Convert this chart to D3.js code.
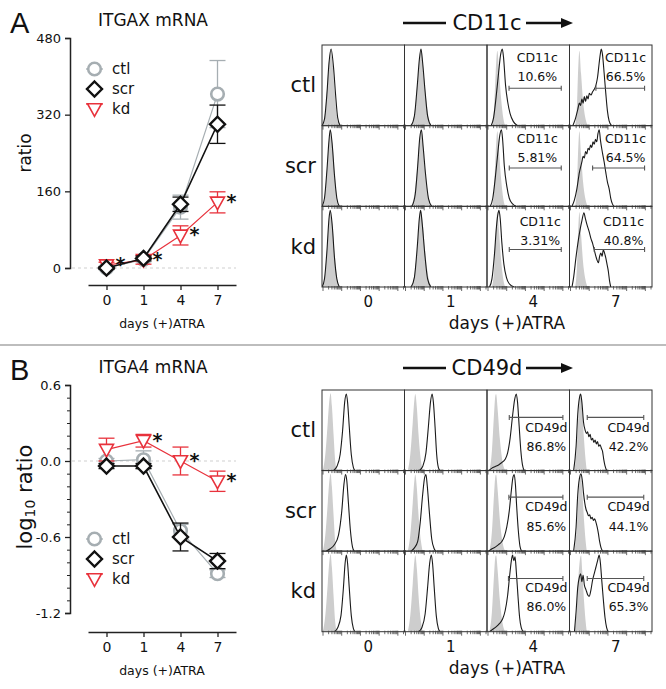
<!DOCTYPE html>
<html><head><meta charset="utf-8">
<script src="https://cdn.jsdelivr.net/npm/d3@7"></script>
<style>body{margin:0;background:#fff} svg{display:block} text{font-family:"DejaVu Sans",Verdana,sans-serif;fill:#111}</style>
</head><body><svg id="c" width="666" height="689"></svg>
<script>
// ---------- DATA ----------
const days = ["0", "1", "4", "7"];
const groups = ["ctl", "scr", "kd"];

// Panel A: ITGAX mRNA ratio
const itgaxCtl = [0, 18, 127, 363];
const itgaxCtlErr = [3, 5, 25, 70];
const itgaxScr = [0, 20, 133, 300];
const itgaxScrErr = [3, 5, 15, 40];
const itgaxKd = [6, 17, 68, 137];
const itgaxKdErr = [6, 9, 20, 22];
const itgaxStars = [true, true, true, true];
const itgaxTicks = [0, 160, 320, 480];

// Panel B: ITGA4 mRNA log10 ratio
const itga4Ctl = [0.0, 0.01, -0.55, -0.89];
const itga4CtlErr = [0.02, 0.07, 0.05, 0.03];
const itga4Scr = [-0.04, -0.04, -0.60, -0.79];
const itga4ScrErr = [0.02, 0.02, 0.11, 0.06];
const itga4Kd = [0.09, 0.16, 0.0, -0.16];
const itga4KdErr = [0.09, 0.05, 0.11, 0.08];
const itga4Stars = [false, true, true, true];
const itga4Ticks = [-1.2, -0.6, 0.0, 0.6];

// Histograms: [fraction of axis, fraction of peak height] per day column
const cd11cIso = [
  [[0.0,0],[0.03,0.1],[0.06,0.45],[0.085,0.8],[0.105,0.95],[0.13,0.75],[0.155,0.4],[0.18,0.12],[0.21,0]],
  [[0.08,0],[0.12,0.15],[0.16,0.55],[0.185,0.85],[0.2,0.95],[0.22,0.8],[0.25,0.45],[0.29,0.12],[0.33,0]],
  [[0.06,0],[0.085,0.2],[0.105,0.65],[0.125,0.93],[0.145,0.7],[0.17,0.35],[0.2,0.08],[0.22,0]],
  [[0.07,0],[0.09,0.25],[0.105,0.7],[0.12,0.93],[0.14,0.65],[0.165,0.3],[0.2,0.06],[0.22,0]]
];
const cd11cCtl = [
  [[0.0,0],[0.03,0.08],[0.06,0.4],[0.085,0.78],[0.11,0.95],[0.14,0.72],[0.165,0.38],[0.19,0.1],[0.22,0]],
  [[0.08,0],[0.12,0.12],[0.155,0.5],[0.18,0.82],[0.2,0.95],[0.22,0.78],[0.25,0.42],[0.28,0.12],[0.32,0]],
  [[0.05,0],[0.08,0.1],[0.11,0.35],[0.14,0.65],[0.165,0.88],[0.185,0.95],[0.2,0.85],[0.225,0.5],[0.25,0.3],[0.28,0.15],[0.32,0.05],[0.37,0]],
  [[0.04,0],[0.07,0.08],[0.1,0.2],[0.12,0.28],[0.135,0.25],[0.15,0.33],[0.165,0.28],[0.18,0.36],[0.195,0.3],[0.21,0.37],[0.225,0.33],[0.24,0.4],[0.26,0.38],[0.28,0.42],[0.3,0.45],[0.32,0.5],[0.34,0.6],[0.36,0.78],[0.375,0.9],[0.385,0.95],[0.4,0.88],[0.42,0.65],[0.44,0.4],[0.46,0.18],[0.48,0.06],[0.51,0]]
];
const cd11cScr = [
  [[0.0,0],[0.03,0.1],[0.06,0.45],[0.085,0.82],[0.1,0.95],[0.125,0.75],[0.15,0.4],[0.18,0.1],[0.21,0]],
  [[0.09,0],[0.13,0.15],[0.16,0.5],[0.185,0.85],[0.205,0.95],[0.225,0.75],[0.255,0.4],[0.29,0.1],[0.33,0]],
  [[0.04,0],[0.07,0.1],[0.1,0.35],[0.13,0.65],[0.155,0.88],[0.175,0.95],[0.19,0.82],[0.21,0.5],[0.24,0.25],[0.27,0.1],[0.31,0.03],[0.35,0]],
  [[0.03,0],[0.06,0.08],[0.09,0.22],[0.12,0.42],[0.15,0.55],[0.165,0.62],[0.18,0.6],[0.195,0.68],[0.21,0.65],[0.225,0.72],[0.24,0.7],[0.255,0.76],[0.27,0.73],[0.285,0.8],[0.3,0.77],[0.315,0.83],[0.33,0.8],[0.345,0.9],[0.36,0.95],[0.375,0.82],[0.4,0.66],[0.42,0.55],[0.44,0.42],[0.46,0.3],[0.48,0.22],[0.5,0.1],[0.52,0.03],[0.54,0]]
];
const cd11cKd = [
  [[0.0,0],[0.03,0.1],[0.06,0.45],[0.085,0.85],[0.1,0.95],[0.125,0.75],[0.15,0.38],[0.18,0.1],[0.21,0]],
  [[0.08,0],[0.12,0.12],[0.155,0.5],[0.18,0.85],[0.195,0.95],[0.215,0.78],[0.245,0.42],[0.28,0.1],[0.32,0]],
  [[0.03,0],[0.06,0.1],[0.09,0.4],[0.115,0.75],[0.135,0.92],[0.145,0.95],[0.16,0.85],[0.18,0.55],[0.205,0.28],[0.235,0.12],[0.27,0.04],[0.33,0]],
  [[0.03,0],[0.05,0.12],[0.08,0.38],[0.11,0.6],[0.13,0.72],[0.15,0.82],[0.175,0.92],[0.19,0.86],[0.21,0.78],[0.24,0.68],[0.26,0.6],[0.28,0.54],[0.3,0.46],[0.32,0.38],[0.335,0.33],[0.35,0.3],[0.365,0.38],[0.38,0.42],[0.395,0.38],[0.41,0.46],[0.425,0.42],[0.44,0.36],[0.455,0.28],[0.47,0.2],[0.485,0.08],[0.5,0]]
];
const cd11cPctCtl = [null, null, "10.6%", "66.5%"];
const cd11cPctScr = [null, null, "5.81%", "64.5%"];
const cd11cPctKd = [null, null, "3.31%", "40.8%"];
const cd11cGateStartCtl = [null, null, 0.267, 0.32];
const cd11cGateStartScr = [null, null, 0.27, 0.28];
const cd11cGateStartKd = [null, null, 0.27, 0.30];

const cd49dIso = [
  [[0.01,0],[0.04,0.2],[0.07,0.6],[0.09,0.88],[0.105,0.96],[0.12,0.8],[0.14,0.45],[0.16,0.12],[0.18,0]],
  [[0.04,0],[0.07,0.2],[0.1,0.6],[0.12,0.88],[0.13,0.95],[0.15,0.78],[0.17,0.45],[0.2,0.12],[0.22,0]],
  [[0.03,0],[0.06,0.25],[0.085,0.7],[0.1,0.92],[0.11,0.95],[0.13,0.75],[0.155,0.4],[0.19,0.1],[0.22,0]],
  [[0.06,0],[0.085,0.25],[0.11,0.7],[0.13,0.92],[0.14,0.95],[0.155,0.75],[0.175,0.4],[0.2,0.08],[0.21,0]]
];
const cd49dCtl = [
  [[0.14,0],[0.18,0.05],[0.22,0.2],[0.25,0.5],[0.275,0.85],[0.295,0.95],[0.31,0.85],[0.33,0.55],[0.355,0.2],[0.38,0.04],[0.4,0]],
  [[0.18,0],[0.22,0.05],[0.26,0.22],[0.29,0.55],[0.315,0.85],[0.335,0.95],[0.35,0.85],[0.37,0.55],[0.39,0.2],[0.41,0.04],[0.43,0]],
  [[0.02,0],[0.06,0.03],[0.1,0.05],[0.14,0.07],[0.18,0.1],[0.22,0.14],[0.25,0.22],[0.28,0.4],[0.31,0.68],[0.335,0.88],[0.355,0.95],[0.37,0.85],[0.39,0.55],[0.41,0.25],[0.43,0.07],[0.45,0]],
  [[0.05,0],[0.08,0.3],[0.1,0.7],[0.12,0.9],[0.135,0.95],[0.15,0.85],[0.17,0.6],[0.19,0.5],[0.205,0.46],[0.22,0.48],[0.235,0.42],[0.25,0.45],[0.265,0.38],[0.28,0.4],[0.295,0.35],[0.31,0.38],[0.325,0.33],[0.34,0.36],[0.355,0.3],[0.37,0.32],[0.385,0.28],[0.4,0.24],[0.415,0.14],[0.43,0.06],[0.45,0]]
];
const cd49dScr = [
  [[0.05,0],[0.1,0.03],[0.15,0.08],[0.2,0.2],[0.24,0.5],[0.265,0.82],[0.285,0.95],[0.3,0.88],[0.32,0.6],[0.345,0.25],[0.37,0.05],[0.39,0]],
  [[0.08,0],[0.12,0.04],[0.16,0.12],[0.19,0.35],[0.22,0.7],[0.245,0.92],[0.26,0.95],[0.275,0.82],[0.3,0.5],[0.33,0.15],[0.36,0.03],[0.38,0]],
  [[0.02,0],[0.06,0.03],[0.1,0.05],[0.14,0.08],[0.18,0.12],[0.21,0.18],[0.24,0.3],[0.27,0.5],[0.295,0.75],[0.315,0.92],[0.33,0.95],[0.345,0.82],[0.36,0.55],[0.38,0.25],[0.4,0.06],[0.42,0]],
  [[0.05,0],[0.08,0.3],[0.1,0.7],[0.12,0.9],[0.14,0.96],[0.155,0.88],[0.17,0.72],[0.185,0.6],[0.2,0.52],[0.215,0.48],[0.23,0.44],[0.245,0.45],[0.26,0.4],[0.275,0.42],[0.29,0.38],[0.305,0.4],[0.32,0.36],[0.335,0.3],[0.35,0.22],[0.365,0.12],[0.38,0.05],[0.4,0]]
];
const cd49dKd = [
  [[0.15,0],[0.19,0.05],[0.23,0.2],[0.26,0.55],[0.28,0.85],[0.295,0.95],[0.31,0.85],[0.33,0.55],[0.355,0.2],[0.38,0.04],[0.4,0]],
  [[0.17,0],[0.21,0.05],[0.25,0.22],[0.28,0.55],[0.305,0.85],[0.325,0.95],[0.34,0.85],[0.36,0.55],[0.385,0.2],[0.41,0.04],[0.43,0]],
  [[0.03,0],[0.07,0.03],[0.11,0.06],[0.15,0.1],[0.19,0.16],[0.22,0.26],[0.25,0.45],[0.275,0.7],[0.295,0.88],[0.31,0.95],[0.325,0.88],[0.34,0.93],[0.355,0.75],[0.375,0.45],[0.395,0.18],[0.415,0.05],[0.44,0]],
  [[0.06,0],[0.08,0.25],[0.1,0.55],[0.12,0.68],[0.135,0.72],[0.15,0.62],[0.165,0.7],[0.18,0.58],[0.2,0.52],[0.22,0.46],[0.24,0.44],[0.26,0.52],[0.28,0.64],[0.3,0.72],[0.32,0.8],[0.34,0.88],[0.36,0.95],[0.375,0.85],[0.39,0.65],[0.41,0.4],[0.43,0.18],[0.45,0.05],[0.47,0]]
];
const cd49dPctCtl = [null, null, "86.8%", "42.2%"];
const cd49dPctScr = [null, null, "85.6%", "44.1%"];
const cd49dPctKd = [null, null, "86.0%", "65.3%"];
const cd49dGateStartCtl = [null, null, 0.27, 0.215];
const cd49dGateStartScr = [null, null, 0.265, 0.215];
const cd49dGateStartKd = [null, null, 0.26, 0.215];

// ---------- DRAW ----------
const svg = d3.select("#c");
const C = {ctl: "#a6aeb2", scr: "#111111", kd: "#e8323c"};

// separator
svg.append("line").attr("x1", 0).attr("x2", 666).attr("y1", 345).attr("y2", 345)
  .attr("stroke", "#bdbdbd").attr("stroke-width", 2);

function markerPath(type, s) {
  if (type === "ctl") return null;
  if (type === "scr") return `M0,${-s}L${s},0L0,${s}L${-s},0Z`;
  return `M${-s},${-s*0.75}L${s},${-s*0.75}L0,${s*1.05}Z`;
}
function drawMarker(g, type, x, y) {
  if (type === "ctl") {
    g.append("circle").attr("cx", x).attr("cy", y).attr("r", 6.3)
      .attr("fill", "#fff").attr("stroke", C.ctl).attr("stroke-width", 2.6);
  } else if (type === "scr") {
    g.append("path").attr("transform", `translate(${x},${y})`).attr("d", markerPath("scr", 7.5))
      .attr("fill", "#fff").attr("stroke", C.scr).attr("stroke-width", 2.4);
  } else {
    g.append("path").attr("transform", `translate(${x},${y})`).attr("d", markerPath("kd", 7))
      .attr("fill", "#fff").attr("stroke", C.kd).attr("stroke-width", 1.6);
  }
}

function lineChart(cfg) {
  const g = svg.append("g");
  const x = d3.scalePoint().domain(days).range([88, 236]).padding(0.5);
  const y = d3.scaleLinear().domain(cfg.domain).range(cfg.yRange);
  g.append("text").attr("x", 10).attr("y", cfg.letterY).text(cfg.letter)
    .style("font-family", "'Liberation Sans',Arial,sans-serif").style("font-size", "29px");
  g.append("text").attr("x", 153).attr("y", cfg.titleY).attr("text-anchor", "middle")
    .attr("dominant-baseline", "central").style("font-size", "17px").text(cfg.title);
  const ya = g.append("g").attr("transform", "translate(70,0)")
    .call(d3.axisLeft(y).tickValues(cfg.ticks).tickSize(5).tickPadding(4).tickFormat(cfg.fmt));
  ya.select(".domain").attr("stroke", "#222").attr("stroke-width", 1.5);
  ya.selectAll(".tick line").attr("stroke", "#222").attr("stroke-width", 1.3);
  ya.selectAll(".tick text").style("font-size", "13px").style("font-family", "'DejaVu Sans',sans-serif").attr("fill", "#111");
  if (cfg.minor) {
    const minor = d3.range(Math.round(cfg.domain[0] * 10), Math.round(cfg.domain[1] * 10) + 1).map(d => d / 10);
    g.append("g").attr("transform", "translate(70,0)")
      .call(d3.axisLeft(y).tickValues(minor).tickSize(3).tickFormat(""))
      .call(s => s.select(".domain").remove())
      .selectAll(".tick line").attr("stroke", "#222");
  }
  g.append("line").attr("x1", 72).attr("x2", 236).attr("y1", y(0)).attr("y2", y(0))
    .attr("stroke", "#cfcfcf").attr("stroke-dasharray", "3,3").attr("stroke-width", 1);
  const xa = g.append("g").attr("transform", `translate(0,${cfg.xAxisY})`)
    .call(d3.axisBottom(x).tickSize(5).tickSizeOuter(0).tickPadding(5));
  xa.select(".domain").attr("stroke", "#222").attr("stroke-width", 1.5);
  xa.selectAll(".tick line").attr("stroke", "#222").attr("stroke-width", 1.3);
  xa.selectAll(".tick text").style("font-size", "14px").style("font-family", "'DejaVu Sans',sans-serif").attr("fill", "#111");
  g.append("text").attr("x", 162).attr("y", cfg.xAxisY + 38).attr("text-anchor", "middle")
    .attr("dominant-baseline", "central").style("font-size", "12.5px").text("days (+)ATRA");
  const yl = g.append("text").attr("transform", `translate(${cfg.ylabX},${cfg.ylabY}) rotate(-90)`)
    .attr("text-anchor", "middle").attr("dominant-baseline", "central").style("font-size", cfg.ylabSize + "px");
  cfg.ylab(yl);

  const series = [
    {k: "ctl", v: cfg.ctl, e: cfg.ctlErr, w: 1.2},
    {k: "kd", v: cfg.kd, e: cfg.kdErr, w: 1.2},
    {k: "scr", v: cfg.scr, e: cfg.scrErr, w: 1.6}
  ];
  series.forEach(s => {
    const sg = g.append("g");
    sg.append("path").datum(s.v)
      .attr("d", d3.line().x((d, i) => x(days[i])).y(d => y(d)))
      .attr("fill", "none").attr("stroke", C[s.k]).attr("stroke-width", s.w);
    s.v.forEach((v, i) => {
      const cx = x(days[i]);
      const eg = sg.append("g").attr("stroke", C[s.k]).attr("stroke-width", 1.3);
      eg.append("line").attr("x1", cx).attr("x2", cx).attr("y1", y(v - s.e[i])).attr("y2", y(v + s.e[i]));
      [v - s.e[i], v + s.e[i]].forEach(ev => eg.append("line").attr("x1", cx - 8).attr("x2", cx + 8).attr("y1", y(ev)).attr("y2", y(ev)));
    });
    s.v.forEach((v, i) => drawMarker(sg, s.k, x(days[i]), y(v)));
  });
  cfg.kd.forEach((v, i) => {
    if (cfg.stars[i]) g.append("text").attr("x", x(days[i]) + 14).attr("y", y(v) + 6)
      .attr("text-anchor", "middle").style("font-size", "19px").style("font-weight", "bold").text("*");
  });
  groups.forEach((k, i) => {
    const ly = cfg.legY + i * 20;
    g.append("line").attr("x1", 86).attr("x2", 103).attr("y1", k === "kd" ? ly - 5 : ly).attr("y2", k === "kd" ? ly - 5 : ly)
      .attr("stroke", C[k]).attr("stroke-width", 1.3);
    drawMarker(g, k, 94.5, ly);
    g.append("text").attr("x", 112).attr("y", ly).attr("dominant-baseline", "central")
      .style("font-size", "15px").text(k);
  });
}

lineChart({
  letter: "A", letterY: 33, title: "ITGAX mRNA", titleY: 20,
  domain: [0, 480], yRange: [268, 38], ticks: itgaxTicks, fmt: d3.format("d"), minor: false,
  xAxisY: 285, ylabX: 25, ylabY: 153, ylabSize: 17,
  ylab: t => t.text("ratio"),
  ctl: itgaxCtl, ctlErr: itgaxCtlErr, scr: itgaxScr, scrErr: itgaxScrErr, kd: itgaxKd, kdErr: itgaxKdErr,
  stars: itgaxStars, legY: 69
});
lineChart({
  letter: "B", letterY: 380, title: "ITGA4 mRNA", titleY: 367,
  domain: [-1.2, 0.6], yRange: [613, 385], ticks: itga4Ticks, fmt: d => d.toFixed(1), minor: true,
  xAxisY: 632, ylabX: 25, ylabY: 497, ylabSize: 21,
  ylab: t => { t.append("tspan").text("log"); t.append("tspan").attr("dy", 5).style("font-size", "14px").text("10");
               t.append("tspan").attr("dy", -5).text(" ratio"); },
  ctl: itga4Ctl, ctlErr: itga4CtlErr, scr: itga4Scr, scrErr: itga4ScrErr, kd: itga4Kd, kdErr: itga4KdErr,
  stars: itga4Stars, legY: 539
});

function histPanel(cfg) {
  const g = svg.append("g");
  const xb = d3.scaleBand().domain(days).range([322, 652]);
  const yb = d3.scaleBand().domain(groups).range(cfg.yRange);
  const bw = xb.bandwidth(), bh = yb.bandwidth();
  const ty = cfg.titleY;
  g.append("line").attr("x1", 403).attr("x2", 446).attr("y1", ty).attr("y2", ty).attr("stroke", "#111").attr("stroke-width", 2.6);
  g.append("text").attr("x", 487).attr("y", ty).attr("text-anchor", "middle").attr("dominant-baseline", "central")
    .style("font-size", "21px").text(cfg.title);
  g.append("line").attr("x1", 526).attr("x2", 563).attr("y1", ty).attr("y2", ty).attr("stroke", "#111").attr("stroke-width", 2.6);
  g.append("path").attr("d", `M561,${ty - 5}L573,${ty}L561,${ty + 5}Z`).attr("fill", "#111");

  const series = {ctl: cfg.ctl, scr: cfg.scr, kd: cfg.kd};
  groups.forEach(gr => {
    const y0 = yb(gr);
    g.append("text").attr("x", 316).attr("y", y0 + bh / 2).attr("text-anchor", "end").attr("dominant-baseline", "central")
      .style("font-size", "21px").text(gr);
    days.forEach((d, i) => {
      const x0 = xb(d);
      const lx = d3.scaleLinear().domain([0, 1]).range([x0, x0 + bw]);
      const ly = d3.scaleLinear().domain([0, 1]).range([y0 + bh, y0]);
      const cid = `clip-${cfg.id}-${gr}-${i}`;
      g.append("clipPath").attr("id", cid).append("rect").attr("x", x0).attr("y", y0).attr("width", bw).attr("height", bh);
      const cg = g.append("g").attr("clip-path", `url(#${cid})`);
      cg.append("path").datum(cfg.iso[i])
        .attr("d", d3.area().x(p => lx(p[0])).y0(ly(0)).y1(p => ly(p[1])).curve(d3.curveMonotoneX))
        .attr("fill", "#cdcdcd");
      cg.append("path").datum(series[gr][i])
        .attr("d", d3.line().x(p => lx(p[0])).y(p => ly(p[1])).curve(d3.curveMonotoneX))
        .attr("fill", "none").attr("stroke", "#1a1a1a").attr("stroke-width", 1.1);
      const pct = cfg.pct[gr][i];
      if (pct) {
        const gs = cfg.gate[gr][i], gy = y0 + bh * cfg.gateY[gr][i];
        const gx1 = lx(gs), gx2 = lx(cfg.gateEnd[i]);
        const gg = g.append("g").attr("stroke", "#555").attr("stroke-width", 1.1);
        gg.append("line").attr("x1", gx1).attr("x2", gx2).attr("y1", gy).attr("y2", gy);
        gg.append("line").attr("x1", gx1).attr("x2", gx1).attr("y1", gy - 2.5).attr("y2", gy + 2.5);
        gg.append("line").attr("x1", gx2).attr("x2", gx2).attr("y1", gy - 2.5).attr("y2", gy + 2.5);
        const tx = lx(cfg.textX[gr][i]);
        g.append("text").attr("x", tx).attr("y", y0 + bh * cfg.labY[gr]).attr("text-anchor", "middle")
          .attr("dominant-baseline", "central").style("font-size", "12.5px").text(cfg.label);
        g.append("text").attr("x", tx).attr("y", y0 + bh * cfg.pctY[gr]).attr("text-anchor", "middle")
          .attr("dominant-baseline", "central").style("font-size", "12.5px").text(pct);
      }
      g.append("rect").attr("x", x0).attr("y", y0).attr("width", bw).attr("height", bh)
        .attr("fill", "none").attr("stroke", "#333").attr("stroke-width", 1);
      const lg = d3.scaleLog().domain([1, 20000]).range([x0 + 1, x0 + bw - 1]);
      g.append("g").selectAll("line").data(lg.ticks()).join("line")
        .attr("x1", t => lg(t)).attr("x2", t => lg(t))
        .attr("y1", y0 + bh - 1).attr("y2", t => y0 + bh + (Math.log10(t) % 1 === 0 ? 4 : 2.5))
        .attr("stroke", "#444").attr("stroke-width", 0.8);
    });
  });
  days.forEach(d => {
    g.append("text").attr("x", xb(d) + bw / 2 + 5).attr("y", cfg.yRange[1] + 15).attr("text-anchor", "middle")
      .attr("dominant-baseline", "central").style("font-size", "15px").text(d);
  });
  g.append("text").attr("x", 507).attr("y", cfg.yRange[1] + 36).attr("text-anchor", "middle")
    .attr("dominant-baseline", "central").style("font-size", "17px").text("days (+)ATRA");
}

histPanel({
  id: "a", title: "CD11c", label: "CD11c", titleY: 23, yRange: [45, 287],
  iso: cd11cIso, ctl: cd11cCtl, scr: cd11cScr, kd: cd11cKd,
  pct: {ctl: cd11cPctCtl, scr: cd11cPctScr, kd: cd11cPctKd},
  gate: {ctl: cd11cGateStartCtl, scr: cd11cGateStartScr, kd: cd11cGateStartKd},
  gateEnd: [null, null, 0.90, 0.91],
  gateY: {ctl: [0, 0, 0.537, 0.537], scr: [0, 0, 0.524, 0.524], kd: [0, 0, 0.535, 0.535]},
  textX: {ctl: [0, 0, 0.61, 0.68], scr: [0, 0, 0.61, 0.68], kd: [0, 0, 0.645, 0.655]},
  labY: {ctl: 0.15, scr: 0.165, kd: 0.185}, pctY: {ctl: 0.39, scr: 0.40, kd: 0.425}
});
histPanel({
  id: "b", title: "CD49d", label: "CD49d", titleY: 368, yRange: [390, 631.7],
  iso: cd49dIso, ctl: cd49dCtl, scr: cd49dScr, kd: cd49dKd,
  pct: {ctl: cd49dPctCtl, scr: cd49dPctScr, kd: cd49dPctKd},
  gate: {ctl: cd49dGateStartCtl, scr: cd49dGateStartScr, kd: cd49dGateStartKd},
  gateEnd: [null, null, 0.92, 0.90],
  gateY: {ctl: [0, 0, 0.34, 0.34], scr: [0, 0, 0.33, 0.33], kd: [0, 0, 0.34, 0.34]},
  textX: {ctl: [0, 0, 0.72, 0.715], scr: [0, 0, 0.72, 0.715], kd: [0, 0, 0.72, 0.715]},
  labY: {ctl: 0.46, scr: 0.45, kd: 0.45}, pctY: {ctl: 0.70, scr: 0.69, kd: 0.69}
});
</script></body></html>
